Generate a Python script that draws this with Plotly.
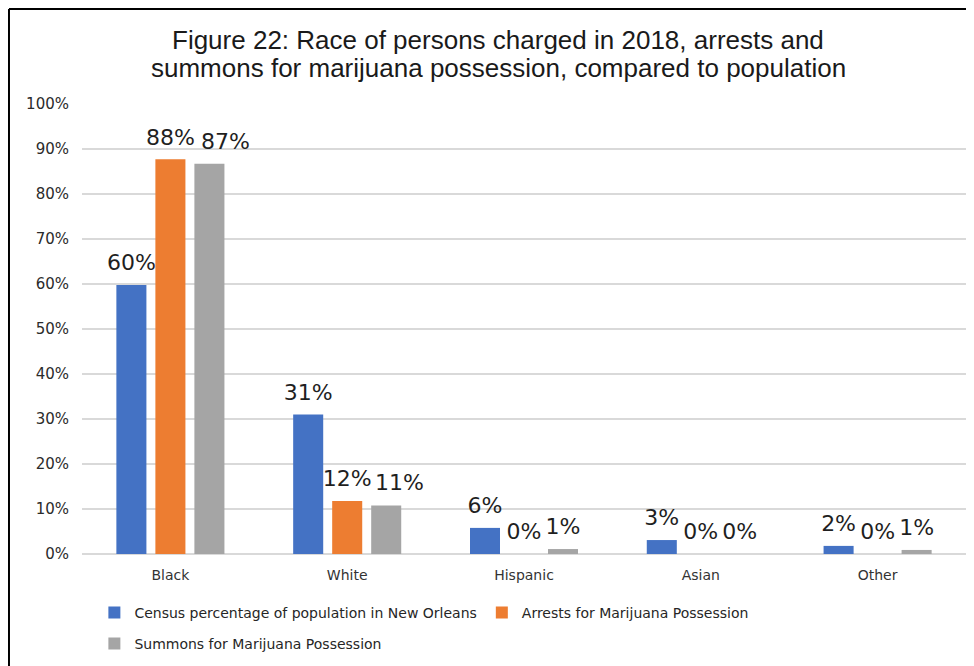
import plotly.graph_objects as go

categories = ["Black", "White", "Hispanic", "Asian", "Other"]
census = [59.8, 31.0, 5.8, 3.1, 1.8]
arrests = [87.7, 11.8, 0.0, 0.0, 0.0]
summons = [86.7, 10.8, 1.1, 0.0, 0.9]
census_lbl = ["60%", "31%", "6%", "3%", "2%"]
arrests_lbl = ["88%", "12%", "0%", "0%", "0%"]
summons_lbl = ["87%", "11%", "1%", "0%", "1%"]
series_names = ["Census percentage of population in New Orleans",
                "Arrests for Marijuana Possession",
                "Summons for Marijuana Possession"]
colors = ["#4472C4", "#ED7D31", "#A5A5A5"]
y_ticks = list(range(0, 101, 10))
y_tick_text = [f"{v}%" for v in y_ticks]
title_line1 = "Figure 22: Race of persons charged in 2018, arrests and"
title_line2 = "summons for marijuana possession, compared to population"

# labels nudged right (px) to avoid overlap: (series index, category index) -> px
label_nudge = {(2, 0): 16, (2, 1): 13}

label_font = dict(family="DejaVu Sans", size=22, color="#1f1f1f")
BARGAP = 0.338
W, H = 974, 666
ML, MR, MT, MB = 74, 16, 96, 120
plot_w = W - ML - MR
slot_px = plot_w / len(categories) * (1 - BARGAP) / 3

all_vals = [census, arrests, summons]
all_lbls = [census_lbl, arrests_lbl, summons_lbl]

fig = go.Figure()
for i, (vals, name, col, leg) in enumerate(zip(all_vals, series_names, colors,
                                               ["legend", "legend", "legend2"])):
    fig.add_trace(go.Bar(
        x=categories, y=vals, name=name, marker_color=col,
        marker_line_width=0, legend=leg, hoverinfo="skip",
        offsetgroup=str(i),
    ))
annotations = []
for i, (vals, lbls) in enumerate(zip(all_vals, all_lbls)):
    txt = []
    for j, t in enumerate(lbls):
        if (i, j) in label_nudge:
            txt.append("")
            annotations.append(dict(
                x=categories[j], y=vals[j], xref="x", yref="y", text=t,
                showarrow=False, xanchor="center", yanchor="bottom",
                xshift=(i - 1) * slot_px + label_nudge[(i, j)], yshift=8,
                font=label_font,
            ))
        else:
            txt.append(t)
    fig.add_trace(go.Scatter(
        x=categories, y=vals, text=txt, mode="markers+text",
        textposition="top center", textfont=label_font,
        marker=dict(size=13, opacity=0), showlegend=False,
        cliponaxis=False, hoverinfo="skip", offsetgroup=str(i),
    ))

annotations.append(dict(
    text=title_line2, xref="paper", yref="paper",
    x=(490 - ML) / plot_w, y=(H - MB - 60) / (H - MT - MB),
    xanchor="center", yanchor="middle", showarrow=False,
    font=dict(family="Liberation Sans", size=26, color="#1a1a1a"),
))

fig.update_layout(
    width=W, height=H,
    margin=dict(l=ML, r=MR, t=MT, b=MB),
    paper_bgcolor="white", plot_bgcolor="white",
    barmode="group", bargap=BARGAP, bargroupgap=0.23,
    scattermode="group", scattergap=BARGAP,
    title=dict(
        text=title_line1,
        x=0.503, xref="container", xanchor="center",
        y=1 - 32 / H, yref="container", yanchor="middle",
        font=dict(family="Liberation Sans", size=26, color="#1a1a1a"),
    ),
    annotations=annotations,
    xaxis=dict(
        showgrid=False, showline=False, ticks="",
        tickfont=dict(family="DejaVu Sans", size=14, color="#333333"),
        ticklabelstandoff=11,
    ),
    yaxis=dict(
        range=[0, 100], tickvals=y_ticks, ticktext=y_tick_text,
        showgrid=True, gridcolor="#d9d9d9", gridwidth=1.5,
        zeroline=True, zerolinecolor="#d9d9d9", zerolinewidth=1.5,
        showline=False, ticks="",
        tickfont=dict(family="DejaVu Sans", size=15, color="#2b2b2b"),
        ticklabelstandoff=12,
    ),
    legend=dict(
        orientation="h", x=0.014, xanchor="left",
        yref="container", y=(H - 605) / H, yanchor="middle",
        font=dict(family="DejaVu Sans", size=14, color="#262626"),
        bgcolor="rgba(0,0,0,0)",
    ),
    legend2=dict(
        orientation="h", x=0.014, xanchor="left",
        yref="container", y=(H - 636) / H, yanchor="middle",
        font=dict(family="DejaVu Sans", size=14, color="#262626"),
        bgcolor="rgba(0,0,0,0)",
    ),
    shapes=[
        dict(type="line", xref="paper", yref="paper", x0=-0.0826, x1=-0.0826,
             y0=-0.3, y1=1.211, line=dict(color="black", width=2)),
        dict(type="line", xref="paper", yref="paper", x0=-0.0826, x1=1.05,
             y0=1.211, y1=1.211, line=dict(color="black", width=2)),
    ],
)

fig.write_html("out.html")
